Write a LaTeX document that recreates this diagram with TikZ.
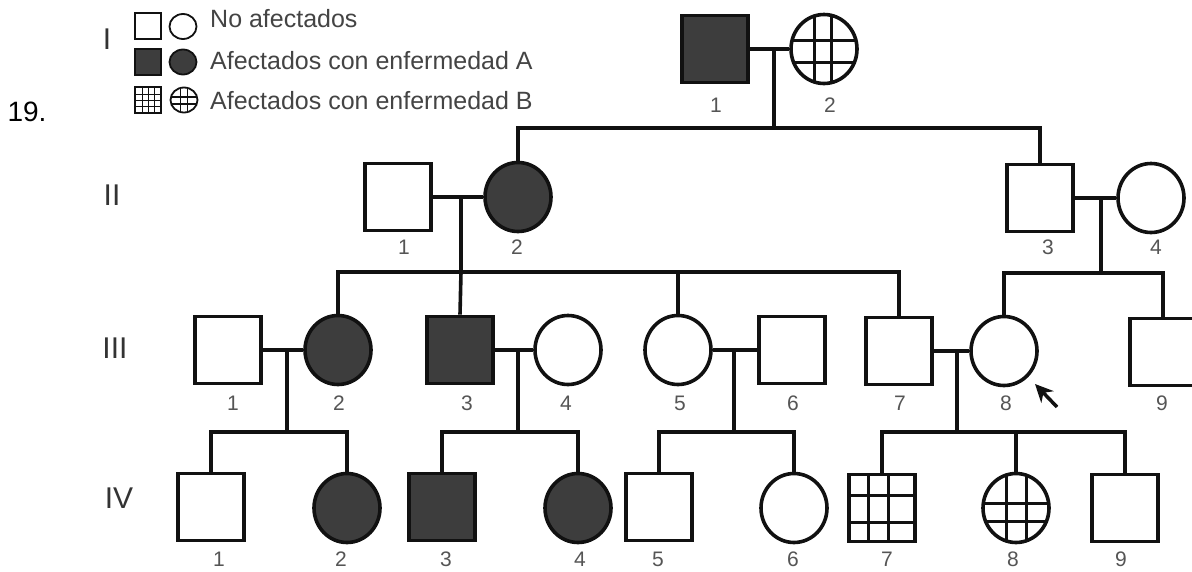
\documentclass[tikz,border=0pt]{standalone}
\usepackage{fontspec}
\setmainfont{Liberation Sans}
\usetikzlibrary{shapes.geometric,arrows.meta,calc}
\definecolor{fillA}{HTML}{3D3D3D}
\definecolor{ink}{HTML}{111111}
\definecolor{lbl}{HTML}{555555}
\definecolor{legtxt}{HTML}{444444}
\definecolor{gentxt}{HTML}{333333}
\tikzset{
  conn/.style={draw=ink, line width=3.6pt},
  sq/.style={rectangle, draw=ink, line width=3.6pt, minimum width=66pt, minimum height=67pt, inner sep=0pt, fill=white},
  ci/.style={ellipse, draw=ink, line width=3.6pt, minimum width=66pt, minimum height=69pt, inner sep=0pt, fill=white},
  lsq/.style={rectangle, draw=ink, line width=1.8pt, minimum width=26pt, minimum height=26pt, inner sep=0pt, fill=white},
  lci/.style={ellipse, draw=ink, line width=1.8pt, minimum width=27pt, minimum height=25pt, inner sep=0pt, fill=white},
  affA/.style={fill=fillA},
  gridB/.style n args={5}{path picture={
    \draw[ink, line width=#5]
      ($(path picture bounding box.north west)!#1!(path picture bounding box.north east)$) --
      ($(path picture bounding box.south west)!#1!(path picture bounding box.south east)$)
      ($(path picture bounding box.north west)!#2!(path picture bounding box.north east)$) --
      ($(path picture bounding box.south west)!#2!(path picture bounding box.south east)$)
      ($(path picture bounding box.north west)!#3!(path picture bounding box.south west)$) --
      ($(path picture bounding box.north east)!#3!(path picture bounding box.south east)$)
      ($(path picture bounding box.north west)!#4!(path picture bounding box.south west)$) --
      ($(path picture bounding box.north east)!#4!(path picture bounding box.south east)$);
  }},
  gridL/.style={path picture={
    \foreach \f in {0.3,0.52,0.74}{
    \draw[ink, line width=1.3pt]
      ($(path picture bounding box.north west)!\f!(path picture bounding box.north east)$) --
      ($(path picture bounding box.south west)!\f!(path picture bounding box.south east)$)
      ($(path picture bounding box.north west)!\f!(path picture bounding box.south west)$) --
      ($(path picture bounding box.north east)!\f!(path picture bounding box.south east)$);}
  }},
  lab/.style={text=lbl, font=\fontsize{21}{21}\selectfont, inner sep=0pt},
  gen/.style={text=gentxt, font=\fontsize{30}{30}\selectfont, inner sep=0pt},
  legt/.style={text=legtxt, font=\fontsize{25}{25}\selectfont, inner sep=0pt, anchor=west},
}
\begin{document}
\begin{tikzpicture}[x=1pt, y=-1pt]
\useasboundingbox (0,0) rectangle (1192,571);
\clip (0,0) rectangle (1192,571);
\fill[white] (0,0) rectangle (1192,571);

% problem number and generation labels
\node[font=\fontsize{28}{28}\selectfont, inner sep=0pt] (num) at (27,112) {19.};
\node[gen] (gI) at (107,39) {I};
\node[gen] (gII) at (112,195) {II};
\node[gen] (gIII) at (115,348) {III};
\node[gen] (gIV) at (119,498) {IV};

% legend
\node[lsq] (lg1) at (148,26) {};
\node[lci] (lg2) at (183,26.5) {};
\node[lsq, affA] (lg3) at (148,62) {};
\node[lci, affA] (lg4) at (183,62) {};
\node[lsq, gridL] (lg5) at (148,100) {};
\node[lci, gridB={0.36}{0.64}{0.38}{0.66}{1.3pt}] (lg6) at (184,100) {};
\node[legt] (lt1) at (210,19) {No afectados};
\node[legt] (lt2) at (210,61) {Afectados con enfermedad A};
\node[legt] (lt3) at (210,101) {Afectados con enfermedad B};

% generation I
\node[sq, affA] (I1) at (715,49) {};
\node[ci, gridB={0.36}{0.62}{0.38}{0.69}{3pt}] (I2) at (824,49) {};
\node[lab] (lI1) at (716,105) {1};
\node[lab] (lI2) at (830,105) {2};

% generation II
\node[sq] (II1) at (398,197) {};
\node[ci, affA] (II2) at (518,197) {};
\node[sq] (II3) at (1040,198) {};
\node[ci] (II4) at (1151,198) {};
\node[lab] (lII1) at (404,247) {1};
\node[lab] (lII2) at (517,247) {2};
\node[lab] (lII3) at (1048,247) {3};
\node[lab] (lII4) at (1156,247) {4};

% generation III
\node[sq] (III1) at (228,350) {};
\node[ci, affA] (III2) at (338,350) {};
\node[sq, affA] (III3) at (460,350) {};
\node[ci] (III4) at (568,350) {};
\node[ci] (III5) at (678,350) {};
\node[sq] (III6) at (792,350) {};
\node[sq] (III7) at (899,351) {};
\node[ci] (III8) at (1004,351) {};
\node[sq] (III9) at (1163,352) {};
\foreach \n/\x/\t in {1/233/1,2/339/2,3/467/3,4/566/4,5/680/5,6/793/6,7/900/7,8/1006/8,9/1162/9}
  \node[lab] (lIII\n) at (\x,403) {\t};

% generation IV
\node[sq] (IV1) at (211,507) {};
\node[ci, affA] (IV2) at (347,508) {};
\node[sq, affA] (IV3) at (442,507) {};
\node[ci, affA] (IV4) at (578,508) {};
\node[sq] (IV5) at (659,507) {};
\node[ci] (IV6) at (794,508) {};
\node[sq, gridB={0.3}{0.6}{0.31}{0.72}{3pt}] (IV7) at (882,508) {};
\node[ci, gridB={0.36}{0.66}{0.44}{0.7}{3pt}] (IV8) at (1016,508) {};
\node[sq] (IV9) at (1125,508) {};
\foreach \n/\x/\t in {1/219/1,2/341/2,3/446/3,4/580/4,5/658/5,6/793/6,7/887/7,8/1013/8,9/1121/9}
  \node[lab] (lIV\n) at (\x,559) {\t};

% couple and descent coordinates
\coordinate (c1) at (774,49);  \coordinate (s1) at (774,128);
\coordinate (c2) at (461,197); \coordinate (s2) at (461,272);
\coordinate (c3) at (1101,198); \coordinate (s3) at (1101,273);
\coordinate (c4) at (287,350); \coordinate (s4) at (287,432);
\coordinate (c5) at (518,350); \coordinate (s5) at (518,432);
\coordinate (c6) at (734,350); \coordinate (s6) at (734,432);
\coordinate (c7) at (957,351); \coordinate (s7) at (957,432);

% generation I connections
\draw[conn] (I1.east) -- (I2.west);
\draw[conn] (c1) -- (s1);
\draw[conn] (II2.north) |- (s1) -| (II3.north);

% generation II connections
\draw[conn] (II1.east) -- (II2.west);
\draw[conn] (c2) -- (s2);
\draw[conn] (III2.north) |- (s2) -| (III7.north);
\draw[conn] (s2) -- (III3.north);
\draw[conn] (III5.north) -- (III5.north |- s2);
\draw[conn] (II3.east) -- (II4.west);
\draw[conn] (c3) -- (s3);
\draw[conn] (III8.north) |- (s3) -| (III9.north);

% generation III connections
\draw[conn] (III1.east) -- (III2.west);
\draw[conn] (c4) -- (s4);
\draw[conn] (IV1.north) |- (s4) -| (IV2.north);
\draw[conn] (III3.east) -- (III4.west);
\draw[conn] (c5) -- (s5);
\draw[conn] (IV3.north) |- (s5) -| (IV4.north);
\draw[conn] (III5.east) -- (III6.west);
\draw[conn] (c6) -- (s6);
\draw[conn] (IV5.north) |- (s6) -| (IV6.north);
\draw[conn] (III7.east) -- (III8.west);
\draw[conn] (c7) -- (s7);
\draw[conn] (IV7.north) |- (s7) -| (IV9.north);
\draw[conn] (IV8.north) -- (IV8.north |- s7);

% proband arrow
\coordinate (atail) at (1057,407);
\coordinate (atip) at (1035,384);
\draw[ink, line width=3.5pt, -{Stealth[length=18pt, width=17pt]}] (atail) -- (atip);
\end{tikzpicture}
\end{document}
